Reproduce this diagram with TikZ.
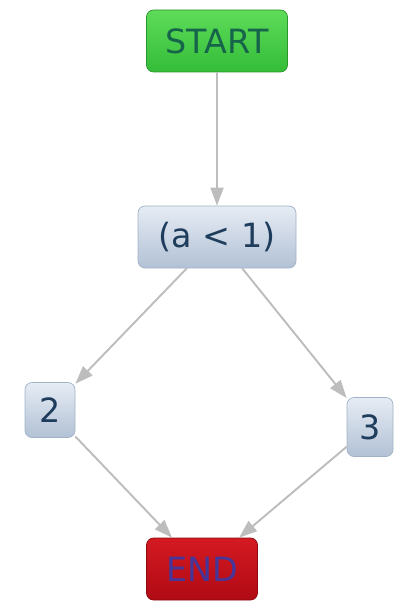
\documentclass[tikz,border=0pt]{standalone}
\usepackage{fontspec}
\setmainfont{DejaVu Sans}
\usetikzlibrary{arrows.meta}
\definecolor{edgegray}{HTML}{BDBDBD}
\definecolor{boxtext}{HTML}{1E3C5C}
\definecolor{boxline}{HTML}{A2B2C6}
\definecolor{boxtop}{HTML}{E6ECF4}
\definecolor{boxbot}{HTML}{B2C1D5}
\definecolor{starttop}{HTML}{5EDC5A}
\definecolor{startbot}{HTML}{34BC38}
\definecolor{starttext}{HTML}{16644A}
\definecolor{endtop}{HTML}{D41A22}
\definecolor{endbot}{HTML}{B00A14}
\definecolor{endtext}{HTML}{46369A}

\begin{document}
\begin{tikzpicture}[>={Triangle[length=3.6mm,width=2.6mm]},
  box/.style={draw=boxline,rounded corners=4pt,align=center,inner sep=0pt,
    top color=boxtop,bottom color=boxbot,text=boxtext,
    font=\fontsize{19}{22}\selectfont},
  startbox/.style={box,draw=startbot!80!black,top color=starttop,bottom color=startbot,text=starttext},
  endbox/.style={box,draw=endbot!80!black,top color=endtop,bottom color=endbot,text=endtext},
  link/.style={->,draw=edgegray,fill=edgegray,line width=1.1pt}]
  \useasboundingbox (0,0) rectangle (7.98,-12.02);
  \node[startbox,minimum width=2.82cm,minimum height=1.24cm] (start) at (4.34,-0.82)  {START};
  \node[box,minimum width=3.16cm,minimum height=1.24cm]      (cond)  at (4.34,-4.74)  {(a < 1)};
  \node[box,minimum width=1.0cm,minimum height=1.1cm]        (two)   at (1.0,-8.2)    {2};
  \node[box,minimum width=0.92cm,minimum height=1.18cm]      (three) at (7.4,-8.54)   {3};
  \node[endbox,minimum width=2.22cm,minimum height=1.24cm]   (end)   at (4.04,-11.38) {END};
  \draw[link] (start) -- (cond);
  \draw[link] (cond) -- (two);
  \draw[link] (cond) -- (three);
  \draw[link] (two) -- (end);
  \draw[link] (three) -- (end);
\end{tikzpicture}
\end{document}
